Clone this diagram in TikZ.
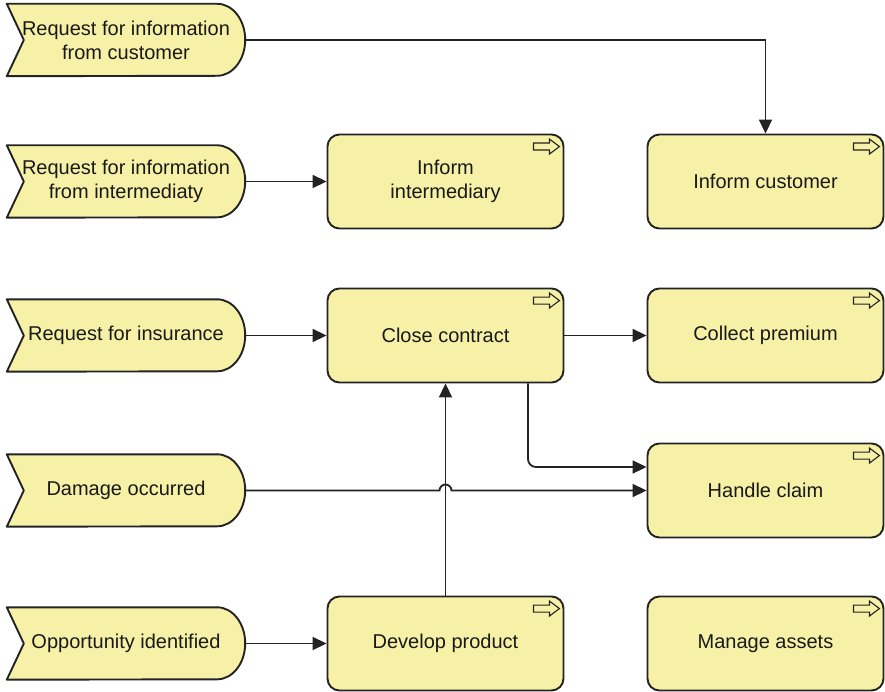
\documentclass[tikz,border=0pt]{standalone}
\usepackage{fontspec}
\setmainfont{Liberation Sans}
\usetikzlibrary{arrows.meta,calc,backgrounds}
\definecolor{shapefill}{RGB}{246,241,166}
\definecolor{edgecol}{RGB}{35,35,35}

\tikzset{
  labeltext/.style={font=\fontsize{20}{24}\selectfont, text=black!90, align=center, inner sep=0pt},
  process/.style={labeltext, draw=edgecol, fill=shapefill, line width=1.9pt,
    rounded corners=12pt, minimum width=236pt, minimum height=94pt},
  event/.style={labeltext, minimum width=238pt, minimum height=72pt},
  eventshape/.style={draw=edgecol, fill=shapefill, line width=1.9pt, line join=round},
  conn/.style={draw=edgecol, line width=1.8pt, -{Triangle[length=14pt,width=13pt]}},
  procicon/.pic={
    \draw[draw=edgecol, fill=shapefill, line width=1.1pt, line join=miter]
      (0,0) -- (-10,7.5) -- (-10,3.5) -- (-26,3.5) -- (-26,-3.5) -- (-10,-3.5) -- (-10,-7.5) -- cycle;
  }
}

\begin{document}
\begin{tikzpicture}[x=1pt,y=1pt]
\useasboundingbox (0,0) rectangle (885,-692);

% triggering events
\node[event] (e1) at (126,-40)    {Request for information\\from customer};
\node[event] (e2) at (126,-181.5) {Request for information\\from intermediaty};
\node[event] (e3) at (126,-335.5) {Request for insurance};
\node[event] (e4) at (126,-490.5) {Damage occurred};
\node[event] (e5) at (126,-643.5) {Opportunity identified};

% event outlines: notched left side, rounded right side
\begin{pgfonlayer}{background}
\foreach \n in {e1,e2,e3,e4,e5}{
  \path[eventshape] (\n.north west) -- ([xshift=-28pt]\n.north east)
    arc[start angle=90, end angle=-90, x radius=28pt, y radius=36pt]
    -- (\n.south west) -- ([xshift=17pt]\n.west) -- cycle;
}
\end{pgfonlayer}

% business processes
\node[process] (ii) at (445.5,-181.5) {Inform\\intermediary};
\node[process] (ic) at (765.5,-181.5) {Inform customer};
\node[process] (cc) at (445.5,-335.5) {Close contract};
\node[process] (cp) at (765.5,-335.5) {Collect premium};
\node[process] (hc) at (765.5,-490.5) {Handle claim};
\node[process] (dp) at (445.5,-643.5) {Develop product};
\node[process] (ma) at (765.5,-643.5) {Manage assets};

\foreach \n in {ii,ic,cc,cp,hc,dp,ma}{
  \pic at ([xshift=-5pt,yshift=-13pt]\n.north east) {procicon};
}

% flows
\draw[conn] (e1.east) -| (ic.north);
\draw[conn] (e2.east) -- (ii.west);
\draw[conn] (e3.east) -- (cc.west);
\draw[conn] (cc.east) -- (cp.west);
\draw[conn, rounded corners=8pt] ([xshift=82.5pt]cc.south) |- ([yshift=23.5pt]hc.west);
\draw[conn] (dp.north) -- (cc.south);
\draw[conn] (e4.east) -- ($(dp.north |- e4.east)+(-6pt,0)$)
  arc[start angle=180, end angle=0, radius=6pt] -- (hc.west);
\draw[conn] (e5.east) -- (dp.west);
\end{tikzpicture}
\end{document}
